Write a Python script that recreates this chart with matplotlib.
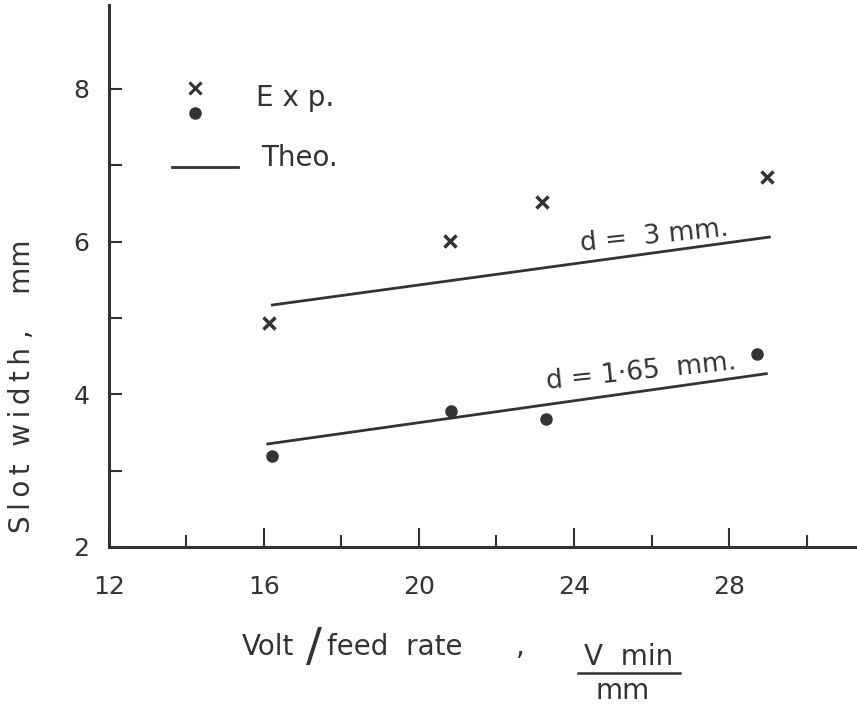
import matplotlib.pyplot as plt

# experimental points
exp_x_3 = [16.12, 20.80, 23.18, 28.99]
exp_y_3 = [4.94, 6.01, 6.52, 6.85]
exp_x_165 = [16.20, 20.83, 23.28, 28.73]
exp_y_165 = [3.19, 3.78, 3.68, 4.53]

# theoretical lines
theo_x_3 = [16.22, 29.04]
theo_y_3 = [5.17, 6.06]
theo_x_165 = [16.10, 28.96]
theo_y_165 = [3.35, 4.27]

xticks_major = [12, 16, 20, 24, 28]
xticks_minor = [14, 18, 22, 26, 30]
yticks_major = [2, 4, 6, 8]
yticks_minor = [3, 5, 7]

ink = '#333333'
plt.rcParams['font.family'] = ['DejaVu Sans']


def spaced(s):
    # stencil lettering is a bit spread out
    return '\u2009'.join(s)


fig = plt.figure(figsize=(8.57, 7.09), dpi=100)
ax = fig.add_axes([0.127, 0.2285, 0.873, 0.7645])

ax.plot(exp_x_3, exp_y_3, 'x', color=ink, ms=9, mew=2.5, ls='none')
ax.plot(exp_x_165, exp_y_165, 'o', color=ink, ms=8, ls='none')
ax.plot(theo_x_3, theo_y_3, color=ink, lw=2)
ax.plot(theo_x_165, theo_y_165, color=ink, lw=2)

ax.text(26.06, 6.07, 'd =  3 mm.', fontsize=19, color=ink,
        rotation=6, ha='center', va='center')
ax.text(25.73, 4.29, 'd = 1·65  mm.', fontsize=19, color=ink,
        rotation=6, ha='center', va='center')

# hand made legend
ax.plot([0.115], [0.847], 'x', color=ink, ms=9, mew=2.2,
        transform=ax.transAxes, clip_on=False)
ax.plot([0.115], [0.801], 'o', color=ink, ms=8,
        transform=ax.transAxes, clip_on=False)
ax.plot([0.084, 0.172], [0.701, 0.701], color=ink, lw=2,
        transform=ax.transAxes, clip_on=False)
ax.text(0.197, 0.828, 'E x p.', fontsize=20, color=ink,
        transform=ax.transAxes, va='center')
ax.text(0.204, 0.717, 'Theo.', fontsize=20, color=ink,
        transform=ax.transAxes, va='center')

ax.set_xlim(12, 31.3)
ax.set_ylim(2, 9.1)
ax.set_xticks(xticks_major)
ax.set_xticks(xticks_minor, minor=True)
ax.set_yticks(yticks_major)
ax.set_yticks(yticks_minor, minor=True)

for s in ['top', 'right']:
    ax.spines[s].set_visible(False)
for s in ['left', 'bottom']:
    ax.spines[s].set_linewidth(2.2)
    ax.spines[s].set_color(ink)

ax.tick_params(axis='x', which='major', direction='in', length=14,
               width=1.5, color=ink, labelsize=18, labelcolor=ink, pad=20)
ax.tick_params(axis='x', which='minor', direction='in', length=9,
               width=1.5, color=ink)
ax.tick_params(axis='y', which='both', direction='in', length=9,
               width=1.5, color=ink, labelsize=18, labelcolor=ink, pad=14)

# axis labels
fig.text(0.026, 0.455, spaced('Slot') + '  ' + spaced('width') + ' ,    mm',
         rotation=90, fontsize=20, color=ink, ha='center', va='center')
fig.text(0.282, 0.087, 'Volt', fontsize=20, color=ink, ha='left', va='center')
fig.text(0.366, 0.085, '/', fontsize=34, color=ink, ha='center', va='center')
fig.text(0.381, 0.087, 'feed  rate', fontsize=20, color=ink, ha='left', va='center')
fig.text(0.607, 0.087, ',', fontsize=20, color=ink, ha='center', va='center')
fig.text(0.733, 0.073, 'V  min', fontsize=20, color=ink, ha='center', va='center')
fig.add_artist(plt.Line2D([0.675, 0.794], [0.051, 0.051], color=ink, lw=1.8))
fig.text(0.726, 0.026, 'mm', fontsize=20, color=ink, ha='center', va='center')

fig.savefig('out.png', dpi=100)
